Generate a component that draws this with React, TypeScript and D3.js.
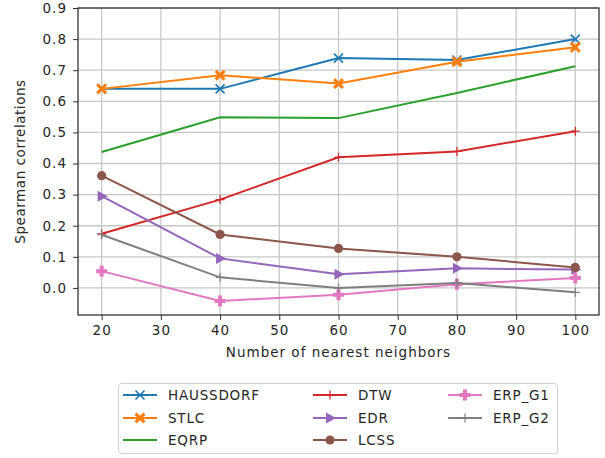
import React, { useEffect, useRef } from "react";
import * as d3 from "d3";

const neighbors = [20, 40, 60, 80, 100];
const haussdorf = [0.64, 0.64, 0.739, 0.733, 0.8];
const stlc = [0.64, 0.684, 0.657, 0.727, 0.774];
const eqrp = [0.437, 0.549, 0.546, 0.627, 0.713];
const dtw = [0.174, 0.284, 0.42, 0.439, 0.504];
const edr = [0.295, 0.095, 0.044, 0.063, 0.059];
const lcss = [0.361, 0.172, 0.127, 0.1, 0.066];
const erpG1 = [0.054, -0.042, -0.022, 0.012, 0.032];
const erpG2 = [0.171, 0.034, 0.0, 0.016, -0.014];
const yTicks = [0.0, 0.1, 0.2, 0.3, 0.4, 0.5, 0.6, 0.7, 0.8, 0.9];
const xTicks = [20, 30, 40, 50, 60, 70, 80, 90, 100];

const series = [
  { name: "HAUSSDORF", values: haussdorf, color: "#1f77b4", marker: "x" },
  { name: "STLC", values: stlc, color: "#ff7f0e", marker: "X" },
  { name: "EQRP", values: eqrp, color: "#2ca02c", marker: "none" },
  { name: "DTW", values: dtw, color: "#d62728", marker: "+" },
  { name: "EDR", values: edr, color: "#9467bd", marker: ">" },
  { name: "LCSS", values: lcss, color: "#8c564b", marker: "o" },
  { name: "ERP_G1", values: erpG1, color: "#e377c2", marker: "P" },
  { name: "ERP_G2", values: erpG2, color: "#7f7f7f", marker: "+" },
];

const FONT = "'DejaVu Sans', sans-serif";

// text in the picture is a little wider than it is tall
function styleText(sel, spacing = 1) {
  sel
    .attr("fill", "#262626")
    .style("font-family", FONT)
    .style("font-size", "13.5px")
    .style("letter-spacing", `${spacing}px`);
}

function drawMarker(g, marker, color, cx, cy) {
  const m = g.append("g").attr("transform", `translate(${cx},${cy})`);
  if (marker === "x") {
    m.append("path")
      .attr("d", "M-4.5,-4.5L4.5,4.5M-4.5,4.5L4.5,-4.5")
      .attr("stroke", color)
      .attr("stroke-width", 1.6);
  } else if (marker === "X") {
    const s = 5.5, w = 2.2;
    m.append("path")
      .attr("d", `M${-s},${-s + w}L${-w},0L${-s},${s - w}L${-s + w},${s}L0,${w}L${s - w},${s}L${s},${s - w}L${w},0L${s},${-s + w}L${s - w},${-s}L0,${-w}L${-s + w},${-s}Z`)
      .attr("fill", color);
  } else if (marker === "+") {
    m.append("path")
      .attr("d", "M-4.5,0L4.5,0M0,-4.5L0,4.5")
      .attr("stroke", color)
      .attr("stroke-width", 1.2);
  } else if (marker === ">") {
    m.append("path").attr("d", "M6,0L-4,-5.5L-4,5.5Z").attr("fill", color);
  } else if (marker === "o") {
    m.append("circle").attr("r", 4.6).attr("fill", color);
  } else if (marker === "P") {
    const a = 5.5, b = 2;
    m.append("path")
      .attr("d", `M${-b},${-a}H${b}V${-b}H${a}V${b}H${b}V${a}H${-b}V${b}H${-a}V${-b}H${-b}Z`)
      .attr("fill", color);
  }
}

export default function App() {
  const ref = useRef(null);

  useEffect(() => {
    const svg = d3.select(ref.current);
    svg.selectAll("*").remove();

    const left = 78, right = 599, top = 8, bottom = 315;
    const x = d3.scaleLinear().domain([16, 104]).range([left, right]);
    const y = d3.scaleLinear().domain([-0.087, 0.9]).range([bottom, top]);

    // grid
    const grid = svg.append("g");
    grid.selectAll(".gx")
      .data(xTicks)
      .enter()
      .append("line")
      .attr("x1", d => x(d))
      .attr("x2", d => x(d))
      .attr("y1", top)
      .attr("y2", bottom)
      .attr("stroke", "#c8c8c8")
      .attr("stroke-width", 1.3);
    grid.selectAll(".gy")
      .data(yTicks)
      .enter()
      .append("line")
      .attr("x1", left)
      .attr("x2", right)
      .attr("y1", d => y(d))
      .attr("y2", d => y(d))
      .attr("stroke", "#c8c8c8")
      .attr("stroke-width", 1.3);

    // axes
    const xAxis = svg.append("g")
      .attr("transform", `translate(0,${bottom})`)
      .call(d3.axisBottom(x).tickValues(xTicks).tickSize(5).tickPadding(5).tickFormat(d3.format("d")));
    const yAxis = svg.append("g")
      .attr("transform", `translate(${left},0)`)
      .call(d3.axisLeft(y).tickValues(yTicks).tickSize(5).tickPadding(6).tickFormat(d3.format(".1f")));
    [xAxis, yAxis].forEach(a => {
      a.select(".domain").remove();
      a.selectAll("line").attr("stroke", "#333").attr("stroke-width", 1);
      styleText(a.selectAll("text"));
    });

    // frame
    svg.append("rect")
      .attr("x", left)
      .attr("y", top)
      .attr("width", right - left)
      .attr("height", bottom - top)
      .attr("fill", "none")
      .attr("stroke", "#262626")
      .attr("stroke-width", 1.2);

    // lines
    const line = d3.line().x((d, i) => x(neighbors[i])).y(d => y(d));
    series.forEach(s => {
      const g = svg.append("g");
      g.append("path")
        .attr("d", line(s.values))
        .attr("fill", "none")
        .attr("stroke", s.color)
        .attr("stroke-width", 2);
      s.values.forEach((v, i) => drawMarker(g, s.marker, s.color, x(neighbors[i]), y(v)));
    });

    // axis labels
    styleText(
      svg.append("text")
        .attr("x", (left + right) / 2)
        .attr("y", 357)
        .attr("text-anchor", "middle")
        .text("Number of nearest neighbors")
    );
    styleText(
      svg.append("text")
        .attr("transform", `translate(24.5,${(top + bottom) / 2}) rotate(-90)`)
        .attr("text-anchor", "middle")
        .text("Spearman correlations"),
      0.55
    );

    // legend
    const lg = svg.append("g");
    lg.append("rect")
      .attr("x", 118.5)
      .attr("y", 383.5)
      .attr("width", 439)
      .attr("height", 70)
      .attr("rx", 3)
      .attr("fill", "#fff")
      .attr("stroke", "#d0d0d0");
    const colX = [123, 313, 448];
    const rowY = [395, 418, 440];
    series.forEach((s, i) => {
      const col = Math.floor(i / 3), row = i % 3;
      const lx = colX[col], ly = rowY[row];
      lg.append("line")
        .attr("x1", lx)
        .attr("x2", lx + 34)
        .attr("y1", ly)
        .attr("y2", ly)
        .attr("stroke", s.color)
        .attr("stroke-width", 2);
      drawMarker(lg, s.marker, s.color, lx + 17, ly);
      styleText(
        lg.append("text")
          .attr("x", lx + 45)
          .attr("y", ly)
          .attr("dy", "0.35em")
          .text(s.name),
        0.8
      );
    });
  }, []);

  return (
    <svg
      ref={ref}
      width={605}
      height={458}
      style={{ position: "absolute", left: 0, top: 0, background: "#fff" }}
    />
  );
}
